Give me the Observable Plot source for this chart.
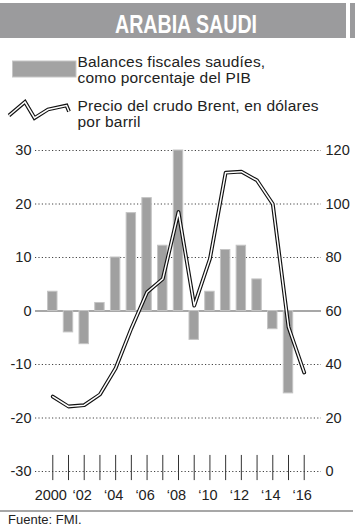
<!DOCTYPE html>
<html><head><meta charset="utf-8">
<script src="https://cdn.jsdelivr.net/npm/d3@7"></script>
<script src="https://cdn.jsdelivr.net/npm/@observablehq/plot@0.6"></script>
<style>
body{margin:0;background:#fff;}
#wrap{position:relative;width:357px;height:532px;overflow:hidden;background:#fff;font-family:"Liberation Sans",Arial,sans-serif;}
#wrap svg{position:absolute;left:0;}
</style></head><body><div id="wrap">
<svg id="head" width="357" height="135" style="top:0">
  <rect x="0" y="3" width="346" height="35" fill="#9b9b9d"/>
  <rect x="350" y="3" width="5" height="35" fill="#9b9b9d"/>
  <text x="115" y="33.3" textLength="142" lengthAdjust="spacingAndGlyphs" font-family="'Liberation Sans',Arial,sans-serif" font-weight="bold" font-size="25" fill="#fff">ARABIA SAUDI</text>
  <rect x="12.5" y="61" width="63.5" height="16" fill="#a3a3a3" stroke="#c6c6c6" stroke-width="1"/>
  <g font-family="'Liberation Sans',Arial,sans-serif" font-size="15.5" letter-spacing="0.2" fill="#222">
    <text x="77.5" y="66.7">Balances fiscales saudíes,</text>
    <text x="77.5" y="82.5">como porcentaje del PIB</text>
    <text x="77.5" y="110.7">Precio del crudo Brent, en dólares</text>
    <text x="77.5" y="126.5">por barril</text>
  </g>
  <polyline points="9,115.5 25,102 34.5,118 48,109.5 66.5,105.5 69,111.5" fill="none" stroke="#111" stroke-width="3.8" stroke-linejoin="miter"/>
  <polyline points="9,115.5 25,102 34.5,118 48,109.5 66.5,105.5 69,111.5" fill="none" stroke="#fff" stroke-width="1.5" stroke-linejoin="miter"/>
</svg>
<div id="chart"></div>
<svg id="foot" width="357" height="27" style="top:505px">
  <line x1="0" x2="353" y1="6" y2="6" stroke="#8a8a8a" stroke-width="1.5"/>
  <text x="8" y="18.5" font-family="'Liberation Sans',Arial,sans-serif" font-size="13" fill="#222">Fuente: FMI.</text>
</svg>
</div>
<script>
const years = [2000,2001,2002,2003,2004,2005,2006,2007,2008,2009,2010,2011,2012,2013,2014,2015,2016];
const balance = [3.6,-4.0,-6.2,1.5,10.0,18.3,21.1,12.2,30.0,-5.4,3.6,11.4,12.2,5.9,-3.4,-15.4,null];
const brent = [28.0,24.3,24.8,28.8,38.6,53.5,67.0,72.0,97.0,62.0,79.5,111.7,112.1,108.8,100.0,54.0,37.0];
const leftTicks = [-30,-20,-10,0,10,20,30];
const yearTicks = [2000,2002,2004,2006,2008,2010,2012,2014,2016];
const yearLabels = ["2000","\u201802","\u201804","\u201806","\u201808","\u201810","\u201812","\u201814","\u201816"];

const data = years.map((year,i)=>({year, balance: balance[i], brent: brent[i]}));
const toLeft = p => p/2 - 30;   // right axis (0..120) onto left axis (-30..30)

const plot = Plot.plot({
  width: 357, height: 370,
  marginTop: 15, marginBottom: 34, marginLeft: 35, marginRight: 36,
  x: {domain: [1998.9, 2017.1]},
  y: {domain: [-30, 30]},
  style: {fontFamily: "'Liberation Sans',Arial,sans-serif", fontSize: "14.5px", color: "#222", background: "transparent", overflow: "visible"},
  marks: [
    Plot.ruleY(leftTicks.filter(d=>d!==0), {stroke:"#444", strokeDasharray:"1.2,2.2", strokeWidth:1}),
    Plot.ruleX(years, {x: d=>d, y1: -31.7, y2: -27, stroke:"#333", strokeWidth:1}),
    Plot.ruleY([0], {stroke:"#8a8a8a", strokeWidth:1.5}),
    Plot.rect(data.filter(d=>d.balance!=null), {x1: d=>d.year-0.3, x2: d=>d.year+0.3, y1: 0, y2: "balance", fill:"#a0a0a0", stroke:"#c4c4c4", strokeWidth:1}),
    Plot.line(data, {x:"year", y: d=>toLeft(d.brent), stroke:"#111", strokeWidth:3.8}),
    Plot.line(data, {x:"year", y: d=>toLeft(d.brent), stroke:"#fff", strokeWidth:1.5}),
    Plot.axisY(leftTicks, {anchor:"left", tickSize:0, tickPadding:4, label:null, tickFormat: d => String(d)}),
    Plot.axisY(leftTicks, {anchor:"right", tickSize:0, tickPadding:4, label:null, tickFormat: d => String((d+30)*2)}),
    Plot.axisX(yearTicks, {anchor:"bottom", tickSize:0, tickPadding:18, label:null, fontSize: 14.5, dx: -2, tickFormat: d => yearLabels[yearTicks.indexOf(d)]})
  ]
});
plot.style.position = "absolute";
plot.style.top = "135px";
plot.style.left = "0px";
document.getElementById("wrap").appendChild(plot);
</script>
</body></html>
